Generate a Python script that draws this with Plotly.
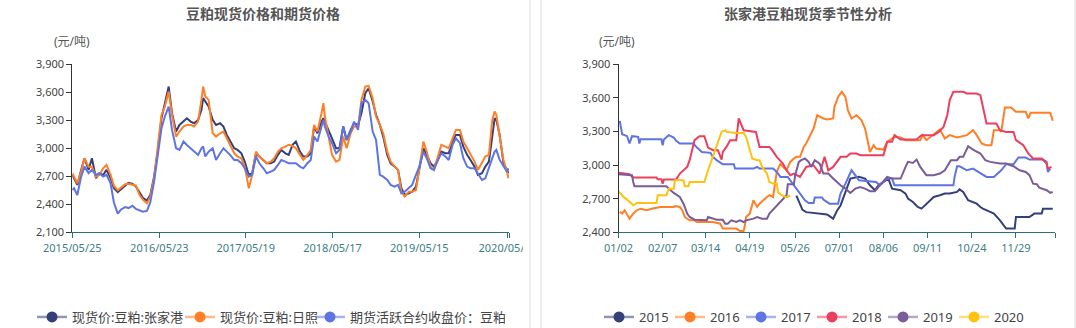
import plotly.graph_objects as go

# ---------------- left panel: spot vs futures (元/吨) ----------------
dates = [
    "2015-05-25", "2015-06-01", "2015-06-15", "2015-07-01", "2015-07-15", "2015-08-01", "2015-08-15",
    "2015-09-01", "2015-09-15", "2015-10-01", "2015-10-15", "2015-11-01", "2015-11-15", "2015-12-01",
    "2015-12-15", "2016-01-01", "2016-01-15", "2016-02-01", "2016-02-15", "2016-03-01", "2016-03-15",
    "2016-04-01", "2016-04-15", "2016-05-01", "2016-05-15", "2016-06-01", "2016-06-15", "2016-07-01",
    "2016-07-15", "2016-08-01", "2016-08-15", "2016-09-01", "2016-09-15", "2016-10-01", "2016-10-15",
    "2016-11-01", "2016-11-15", "2016-11-22", "2016-12-01", "2016-12-15", "2017-01-01", "2017-01-15",
    "2017-02-01", "2017-02-15", "2017-03-01", "2017-03-15", "2017-04-01", "2017-04-15", "2017-05-01",
    "2017-05-15", "2017-06-01", "2017-06-15", "2017-07-01", "2017-07-15", "2017-08-01", "2017-08-15",
    "2017-09-01", "2017-09-15", "2017-10-01", "2017-10-15", "2017-11-01", "2017-11-15", "2017-12-01",
    "2017-12-15", "2018-01-01", "2018-01-15", "2018-02-01", "2018-02-15", "2018-03-01", "2018-03-15",
    "2018-04-01", "2018-04-09", "2018-04-15", "2018-05-01", "2018-05-15", "2018-06-01", "2018-06-15",
    "2018-07-01", "2018-07-15", "2018-08-01", "2018-08-15", "2018-09-01", "2018-09-15", "2018-10-01",
    "2018-10-15", "2018-11-01", "2018-11-15", "2018-12-01", "2018-12-15", "2019-01-01", "2019-01-15",
    "2019-02-01", "2019-02-15", "2019-03-01", "2019-03-15", "2019-04-01", "2019-04-15", "2019-05-01",
    "2019-05-15", "2019-06-01", "2019-06-15", "2019-07-01", "2019-07-15", "2019-08-01", "2019-08-15",
    "2019-09-01", "2019-09-15", "2019-10-01", "2019-10-15", "2019-11-01", "2019-11-15", "2019-12-01",
    "2019-12-15", "2020-01-01", "2020-01-15", "2020-02-01", "2020-02-15", "2020-03-01", "2020-03-15",
    "2020-03-25", "2020-04-01", "2020-04-15", "2020-05-01", "2020-05-15", "2020-05-22",
]
zjg_spot = [
    2715, 2679, 2608, 2769, 2894, 2769, 2894, 2679, 2733, 2715, 2769, 2679, 2572, 2530,
    2560, 2600, 2630, 2620, 2590, 2530, 2470, 2440, 2500, 2697, 2947, 3323, 3484, 3663,
    3377, 3180, 3251, 3287, 3323, 3287, 3269, 3305, 3412, 3538, 3502, 3448, 3305, 3251,
    3269, 3234, 3144, 3073, 3001, 2983, 2947, 2858, 2715, 2733, 2947, 2912, 2876, 2840,
    2840, 2858, 2930, 2983, 2947, 2930, 3037, 3073, 2965, 2912, 2912, 2947, 3234, 3162,
    3287, 3323, 3287, 3198, 3108, 3001, 3001, 3234, 3090, 3198, 3269, 3251, 3377, 3591,
    3645, 3502, 3359, 3251, 3126, 2930, 2840, 2804, 2769, 2572, 2500, 2518, 2536, 2590,
    2769, 3001, 2930, 2840, 2804, 2876, 2965, 2947, 2947, 3073, 3144, 3144, 3019, 2930,
    2876, 2804, 2715, 2733, 2804, 2858, 3126, 3323, 3305, 3144, 2840, 2769, 2733,
]
rizhao_spot = [
    2733, 2697, 2626, 2751, 2894, 2804, 2804, 2697, 2715, 2786, 2822, 2715, 2600, 2550,
    2575, 2615, 2620, 2610, 2600, 2500, 2450, 2410, 2480, 2679, 2983, 3359, 3448, 3609,
    3359, 3126, 3180, 3234, 3251, 3251, 3234, 3287, 3520, 3663, 3556, 3520, 3162, 3126,
    3162, 3180, 3108, 3037, 2947, 2912, 2894, 2804, 2572, 2715, 2965, 2912, 2876, 2840,
    2858, 2894, 2965, 3001, 3019, 3037, 3026, 3001, 2930, 2876, 2930, 2983, 3251, 3180,
    3377, 3484, 3341, 3126, 2930, 2858, 2876, 3126, 3001, 3162, 3234, 3234, 3520, 3663,
    3670, 3538, 3341, 3251, 3162, 2965, 2858, 2804, 2769, 2536, 2482, 2536, 2536, 2554,
    2804, 3073, 2965, 2804, 2769, 2912, 3037, 3019, 3001, 3108, 3198, 3198, 3073, 3001,
    2930, 2858, 2769, 2840, 2912, 2930, 3305, 3395, 3359, 3126, 2876, 2751, 2679,
]
futures = [
    2554, 2572, 2500, 2697, 2804, 2733, 2769, 2715, 2733, 2697, 2715, 2626, 2420, 2300,
    2345, 2370, 2360, 2385, 2350, 2330, 2320, 2330, 2420, 2643, 2911, 3216, 3341, 3448,
    3198, 3001, 2983, 3073, 3037, 3001, 2965, 2930, 3001, 3019, 2912, 2965, 3001, 2876,
    2947, 3001, 2965, 2930, 2876, 2876, 2840, 2786, 2697, 2715, 2912, 2840, 2786, 2733,
    2751, 2769, 2822, 2876, 2858, 2840, 2840, 2840, 2804, 2786, 2840, 2876, 3126, 3073,
    3234, 3305, 3234, 3126, 3055, 2947, 2983, 3234, 3090, 3180, 3287, 3198, 3484, 3520,
    3484, 3180, 3090, 2715, 2697, 2661, 2608, 2590, 2608, 2518, 2536, 2572, 2608, 2715,
    2804, 2965, 2894, 2786, 2769, 2876, 2947, 2912, 2876, 3037, 3108, 3055, 2894, 2804,
    2786, 2786, 2733, 2661, 2679, 2804, 2894, 2965, 2983, 2876, 2804, 2751, 2786,
]
left_ticks = ["2015-05-25", "2016-05-23", "2017-05-19", "2018-05-17", "2019-05-15", "2020-05-19"]
left_range = ["2015-05-25", "2020-05-24"]

# ---------------- right panel: Zhangjiagang seasonal spot ----------------
SEASON_YEAR = 2001
d2015 = ["05/27", "05/30", "06/01", "06/04", "06/10", "06/15", "06/21", "06/26", "06/29", "07/02",
         "07/06", "07/10", "07/17", "07/22", "07/26", "07/30", "08/02", "08/06", "08/10", "08/13",
         "08/20", "08/24", "08/26", "08/30", "09/03", "09/06", "09/10", "09/16", "09/21", "09/25",
         "09/29", "10/09", "10/12", "10/14", "10/17", "10/21", "10/24", "10/28", "10/31", "11/02",
         "11/08", "11/11", "11/16", "11/19", "11/21", "11/28", "11/29", "12/05", "12/10", "12/14",
         "12/20", "12/21", "12/29"]
v2015 = [2727, 2640, 2600, 2580, 2575, 2567, 2560, 2522, 2590, 2640,
         2761, 2880, 2895, 2880, 2820, 2776, 2820, 2850, 2880, 2790,
         2776, 2746, 2701, 2671, 2626, 2611, 2656, 2716, 2731, 2746,
         2746, 2752, 2761, 2784, 2761, 2686, 2671, 2656, 2626, 2611,
         2582, 2567, 2507, 2462, 2433, 2433, 2537, 2537, 2537, 2567,
         2567, 2611, 2611]

d2016 = ["01/03", "01/05", "01/07", "01/10", "01/11", "01/14", "01/17", "01/20", "01/22", "01/25",
         "01/29", "02/05", "02/16", "02/17", "02/21", "02/23", "02/25", "03/01", "03/05", "03/07",
         "03/20", "03/26", "03/28", "04/08", "04/11", "04/14", "04/15", "04/16", "04/19", "04/22",
         "04/25", "04/27", "05/03", "05/05", "05/08", "05/11", "05/14", "05/16", "05/19", "05/22",
         "05/25", "05/27", "05/30", "06/02", "06/04", "06/07", "06/10", "06/13", "06/15", "06/18",
         "06/21", "06/26", "06/27", "06/30", "07/03", "07/06", "07/08", "07/11", "07/15", "07/19",
         "07/22", "07/25", "07/26", "07/29", "07/31", "08/06", "08/09", "08/13", "08/15", "08/20",
         "08/24", "09/05", "09/07", "09/10", "09/16", "09/21", "09/25", "09/29", "10/12", "10/20",
         "10/25", "10/28", "11/01", "11/05", "11/09", "11/11", "11/16", "11/17", "11/20", "11/25",
         "11/29", "12/07", "12/09", "12/11", "12/27", "12/29"]
v2016 = [2582, 2567, 2597, 2537, 2522, 2567, 2597, 2611, 2603, 2597,
         2611, 2626, 2626, 2635, 2626, 2597, 2537, 2507, 2507, 2492,
         2492, 2477, 2433, 2433, 2412, 2412, 2462, 2537, 2567, 2686,
         2626, 2656, 2716, 2731, 2716, 2939, 3014, 2984, 2954, 3029,
         3059, 3074, 3074, 3163, 3193, 3253, 3327, 3446, 3432, 3417,
         3408, 3417, 3521, 3610, 3655, 3610, 3491, 3417, 3446, 3402,
         3327, 3163, 3118, 3178, 3148, 3139, 3208, 3238, 3253, 3247,
         3223, 3223, 3268, 3223, 3276, 3318, 3238, 3268, 3247, 3268,
         3312, 3268, 3193, 3178, 3178, 3312, 3312, 3297, 3515, 3515,
         3476, 3476, 3417, 3467, 3467, 3396]

d2017 = ["01/03", "01/05", "01/09", "01/11", "01/13", "01/18", "01/19", "01/20", "02/06", "02/07",
         "02/08", "02/12", "02/16", "02/18", "02/21", "03/04", "03/07", "03/11", "03/18", "03/20",
         "03/23", "03/28", "04/06", "04/07", "04/22", "04/25", "04/27", "05/08", "05/11", "05/14",
         "05/20", "05/23", "05/27", "05/30", "06/03", "06/06", "06/10", "06/11", "06/17", "06/18",
         "06/23", "06/30", "07/02", "07/06", "07/10", "07/11", "07/14", "07/17", "07/31", "08/03",
         "08/09", "08/13", "08/15", "10/09", "10/10", "10/12", "10/14", "10/20", "10/25", "10/31",
         "11/05", "11/11", "11/17", "11/21", "11/27", "12/01", "12/07", "12/10", "12/21", "12/24",
         "12/25", "12/27"]
v2017 = [3396, 3276, 3259, 3193, 3259, 3253, 3193, 3232, 3232, 3178,
         3229, 3268, 3247, 3217, 3193, 3193, 3157, 3118, 3110, 3074,
         3044, 3008, 3008, 2969, 2969, 2984, 2969, 2969, 2939, 2895,
         2895, 2850, 2790, 2746, 2686, 2662, 2662, 2710, 2710, 2692,
         2656, 2656, 2746, 2835, 2939, 2954, 2910, 2865, 2850, 2820,
         2880, 2880, 2820, 2820, 2895, 2990, 2990, 2954, 2969, 2925,
         2895, 2895, 2954, 3008, 3008, 3068, 3068, 3050, 3050, 3029,
         2939, 2969]

d2018 = ["01/02", "01/11", "01/14", "02/02", "02/03", "02/06", "02/07", "02/08", "02/18", "02/21",
         "02/27", "03/01", "03/05", "03/09", "03/13", "03/16", "03/20", "03/24", "03/27", "03/28",
         "03/31", "04/03", "04/08", "04/10", "04/14", "04/24", "04/27", "05/05", "05/07", "05/11",
         "05/16", "05/19", "05/22", "05/25", "05/30", "06/04", "06/10", "06/15", "06/19", "06/22",
         "06/26", "06/30", "07/02", "07/07", "07/10", "07/15", "07/18", "08/06", "08/09", "08/13",
         "08/15", "08/20", "09/02", "09/06", "09/16", "09/20", "09/24", "09/27", "09/28", "09/29",
         "10/09", "10/17", "10/20", "10/28", "10/31", "11/02", "11/05", "11/13", "11/16", "11/21",
         "11/27", "11/29", "12/05", "12/09", "12/13", "12/20", "12/24", "12/25", "12/28"]
v2018 = [2931, 2919, 2889, 2889, 2874, 2874, 2835, 2871, 2871, 2925,
         2984, 3044, 3223, 3259, 3259, 3157, 3133, 3133, 3050, 3118,
         3163, 3223, 3223, 3417, 3312, 3297, 3163, 3163, 3139, 3074,
         3014, 2954, 2910, 2925, 2895, 2984, 2999, 2925, 3074, 2954,
         2984, 3044, 3074, 3074, 3104, 3104, 3089, 3089, 3208, 3208,
         3268, 3229, 3229, 3268, 3268, 3297, 3342, 3446, 3521, 3581,
         3655, 3655, 3640, 3640, 3625, 3521, 3372, 3372, 3312, 3297,
         3297, 3223, 3178, 3104, 3059, 3059, 3014, 2969, 2984]

d2019 = ["01/02", "01/13", "01/14", "01/15", "02/10", "02/13", "02/16", "02/21", "02/24", "02/27",
         "03/01", "03/05", "03/15", "03/16", "03/20", "03/23", "03/28", "03/30", "04/01", "04/04",
         "04/08", "04/11", "04/14", "04/16", "04/22", "04/25", "04/29", "05/03", "05/05", "05/10",
         "05/12", "05/15", "05/19", "05/20", "05/25", "05/26", "05/29", "05/31", "06/03", "06/06",
         "06/08", "06/11", "06/15", "06/18", "06/22", "06/26", "07/02", "07/06", "07/10", "07/14",
         "07/18", "07/22", "07/26", "07/30", "08/02", "08/06", "08/09", "08/13", "08/20", "08/24",
         "08/26", "08/30", "09/02", "09/05", "09/07", "09/10", "09/16", "09/21", "09/25", "09/30",
         "10/12", "10/14", "10/17", "10/21", "10/25", "10/31", "11/04", "11/08", "11/16", "11/21",
         "11/27", "12/02", "12/07", "12/10", "12/13", "12/16", "12/18", "12/21", "12/24", "12/27",
         "12/29"]
v2019 = [2919, 2910, 2850, 2811, 2811, 2781, 2752, 2716, 2656, 2567,
         2537, 2513, 2507, 2537, 2522, 2513, 2513, 2477, 2477, 2507,
         2492, 2507, 2492, 2507, 2522, 2537, 2522, 2522, 2567, 2626,
         2656, 2686, 2731, 2829, 2829, 2910, 3029, 3044, 3059, 3029,
         2984, 3044, 3014, 2925, 2925, 2880, 2820, 2790, 2752, 2790,
         2805, 2790, 2767, 2767, 2805, 2850, 2895, 2880, 2880, 2984,
         3029, 3020, 3050, 2984, 2954, 2910, 2910, 2925, 2954, 3044,
         3044, 3074, 3074, 3169, 3139, 3104, 3044, 3029, 3014, 3014,
         2990, 2954, 2939, 2910, 2835, 2829, 2799, 2790, 2776, 2752,
         2761]

d2020 = ["01/02", "01/06", "01/09", "01/13", "01/14", "01/17", "02/02", "02/03", "02/10", "02/12",
         "02/16", "02/17", "02/24", "02/25", "02/28", "03/01", "03/13", "03/16", "03/19", "03/23",
         "03/27", "03/30", "03/31", "04/08", "04/14", "04/16", "04/21", "04/25", "04/27", "04/29",
         "05/03", "05/05", "05/08", "05/11", "05/12", "05/15", "05/18", "05/20", "05/22"]
v2020 = [2766, 2716, 2692, 2656, 2641, 2662, 2662, 2731, 2731, 2790,
         2790, 2865, 2865, 2811, 2811, 2850, 2850, 2954, 3044, 3163,
         3297, 3312, 3297, 3288, 3288, 3253, 3059, 3044, 3044, 2984,
         2925, 2850, 2835, 2835, 2761, 2731, 2716, 2716, 2731]

right_ticks = ["01/02", "02/07", "03/14", "04/19", "05/26", "07/01", "08/06", "09/11", "10/24", "11/29"]
right_end = "12/31"

W, H = 1076, 328
FONT = "Noto Sans, Noto Sans CJK SC, sans-serif"
AXIS_DARK = "#333333"
AXIS_TEAL = "#2f7076"
LABEL_TEAL = "#3d7d84"


def season_x(mmdd_list):
    return [f"{SEASON_YEAR}-{s.replace('/', '-')}" for s in mmdd_list]


def px_x(p):
    return p / W


def px_y(p):
    return 1 - p / H


fig = go.Figure()

# name, values, line colour, legend line colour, legend entry width
left_series = [
    ("现货价:豆粕:张家港", zjg_spot, "#35407a", "rgba(53,64,122,0.55)", 103),
    ("现货价:豆粕:日照", rizhao_spot, "#ff7f27", "rgba(255,127,39,0.55)", 85),
    ("期货活跃合约收盘价：豆粕", futures, "#5d74e2", "rgba(93,116,226,0.55)", 150),
]
for name, vals, col, light, lw in left_series:
    fig.add_trace(go.Scatter(x=dates, y=vals, mode="lines", line=dict(color=col, width=2),
                             name=name, showlegend=False, xaxis="x", yaxis="y"))
    fig.add_trace(go.Scatter(x=[None], y=[None], mode="lines+markers", name=name,
                             line=dict(color=light, width=2.5), marker=dict(color=col, size=11),
                             xaxis="x", yaxis="y", legend="legend", legendwidth=lw))

right_series = [
    ("2015", d2015, v2015, "#35407a", "rgba(53,64,122,0.55)"),
    ("2016", d2016, v2016, "#ff7f27", "rgba(255,127,39,0.55)"),
    ("2017", d2017, v2017, "#5d74e2", "rgba(93,116,226,0.55)"),
    ("2018", d2018, v2018, "#ea3f5f", "rgba(234,63,95,0.55)"),
    ("2019", d2019, v2019, "#7a5c99", "rgba(122,92,153,0.55)"),
    ("2020", d2020, v2020, "#ffc20f", "rgba(255,194,15,0.55)"),
]
for name, dd, vals, col, light in right_series:
    fig.add_trace(go.Scatter(x=season_x(dd), y=vals, mode="lines", line=dict(color=col, width=2),
                             name=name, showlegend=False, xaxis="x2", yaxis="y2"))
    fig.add_trace(go.Scatter(x=[None], y=[None], mode="lines+markers", name=name,
                             line=dict(color=light, width=2.5), marker=dict(color=col, size=11),
                             xaxis="x2", yaxis="y2", legend="legend2", legendwidth=26))

ydom = [px_y(232.3), px_y(64.4)]
tickfont_y = dict(family=FONT, size=11, color="#444444")
tickfont_x = dict(family=FONT, size=11, color=LABEL_TEAL)

left_tickvals = left_ticks + [left_range[1]]
left_ticktext = [t.replace("-", "/") for t in left_ticks] + [""]
right_tickvals = season_x(right_ticks + [right_end])
right_ticktext = right_ticks + [""]

fig.update_layout(
    width=W, height=H, margin=dict(l=0, r=0, t=0, b=0, autoexpand=False),
    paper_bgcolor="white", plot_bgcolor="white",
    font=dict(family=FONT, color="#444444"),
    xaxis=dict(domain=[px_x(72.3), px_x(509)], type="date", range=left_range,
               tickvals=left_tickvals, ticktext=left_ticktext, showgrid=False, zeroline=False,
               showline=True, linecolor=AXIS_TEAL, linewidth=1, ticks="outside", ticklen=5,
               tickcolor=AXIS_TEAL, tickfont=tickfont_x, anchor="y"),
    yaxis=dict(domain=ydom, range=[2100, 3900], tickvals=[2100, 2400, 2700, 3000, 3300, 3600, 3900],
               tickformat=",", showgrid=False, zeroline=False, showline=True, linecolor=AXIS_DARK,
               ticks="outside", ticklen=5, tickcolor=AXIS_DARK, tickfont=tickfont_y, anchor="x"),
    xaxis2=dict(domain=[px_x(618.5), px_x(1055.2)], type="date",
                range=season_x(["01/02", right_end]),
                rangebreaks=[dict(bounds=season_x(["10/01", "10/08"]))],
                tickvals=right_tickvals, ticktext=right_ticktext, showgrid=False, zeroline=False,
                showline=True, linecolor=AXIS_TEAL, linewidth=1, ticks="outside", ticklen=5,
                tickcolor=AXIS_TEAL, tickfont=tickfont_x, anchor="y2"),
    yaxis2=dict(domain=ydom, range=[2400, 3900], tickvals=[2400, 2700, 3000, 3300, 3600, 3900],
                tickformat=",", showgrid=False, zeroline=False, showline=True, linecolor=AXIS_DARK,
                ticks="outside", ticklen=5, tickcolor=AXIS_DARK, tickfont=tickfont_y, anchor="x2"),
    legend=dict(orientation="h", x=px_x(32), xanchor="left", y=px_y(317), yanchor="middle",
                font=dict(family=FONT, size=13, color="#444444"), itemwidth=30,
                bgcolor="rgba(0,0,0,0)", tracegroupgap=0),
    legend2=dict(orientation="h", x=px_x(599), xanchor="left", y=px_y(317), yanchor="middle",
                 font=dict(family=FONT, size=13, color="#444444"), itemwidth=30,
                 bgcolor="rgba(0,0,0,0)", tracegroupgap=0),
    showlegend=True,
    hovermode="closest",
)

title_font = dict(family=FONT, size=14, color="#555555")
unit_font = dict(family=FONT, size=12, color="#555555")
fig.add_annotation(x=px_x(263), y=px_y(13.5), xref="paper", yref="paper", showarrow=False,
                   text="<b>豆粕现货价格和期货价格</b>", font=title_font, xanchor="center", yanchor="middle")
fig.add_annotation(x=px_x(808), y=px_y(13.5), xref="paper", yref="paper", showarrow=False,
                   text="<b>张家港豆粕现货季节性分析</b>", font=title_font, xanchor="center", yanchor="middle")
fig.add_annotation(x=px_x(71.5), y=px_y(41.5), xref="paper", yref="paper", showarrow=False,
                   text="(元/吨)", font=unit_font, xanchor="center", yanchor="middle")
fig.add_annotation(x=px_x(617), y=px_y(41.5), xref="paper", yref="paper", showarrow=False,
                   text="(元/吨)", font=unit_font, xanchor="center", yanchor="middle")

# left card edge hides the overflow of its last date label
fig.add_shape(type="rect", xref="paper", yref="paper", x0=px_x(523), x1=px_x(540.5),
              y0=px_y(262), y1=px_y(234), line=dict(width=0), fillcolor="white", layer="above")
# panel borders
for xp in (530, 541, 1075):
    fig.add_shape(type="line", xref="paper", yref="paper", x0=px_x(xp), x1=px_x(xp), y0=0, y1=1,
                  line=dict(color="#e8e8e8", width=1.5), layer="above")

fig.write_html("out.html")
